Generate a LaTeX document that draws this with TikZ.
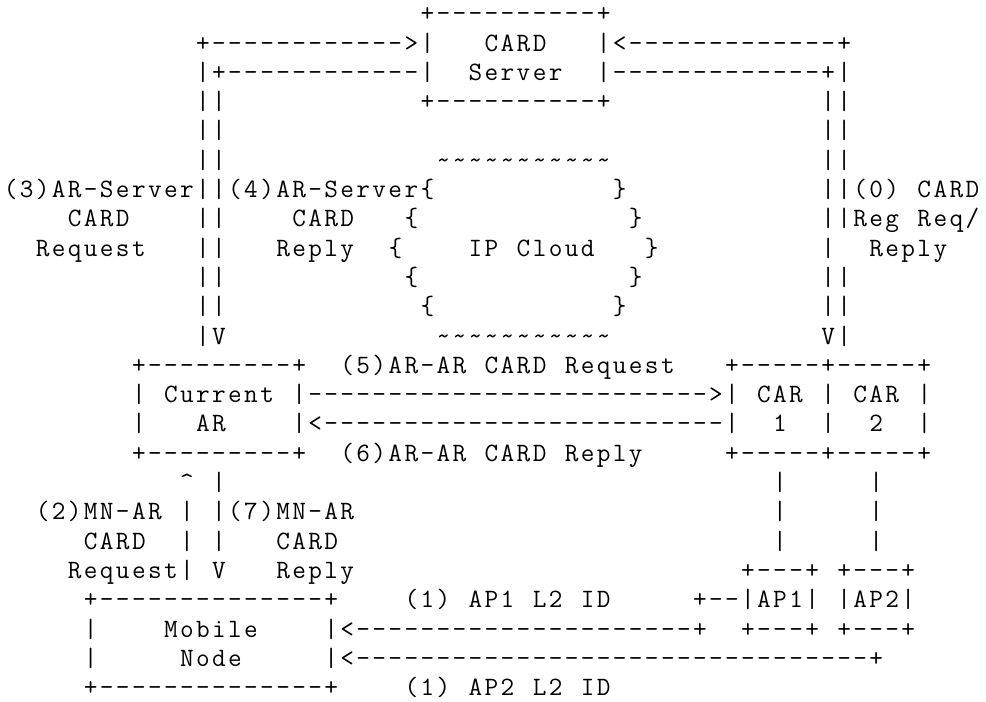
\documentclass[tikz,border=0pt]{standalone}
\ExplSyntaxOn
\newcommand\dashes[1]{\prg_replicate:nn{#1}{-}}
\newcommand\tildes[1]{\prg_replicate:nn{#1}{\T}}
\ExplSyntaxOff
\protected\def\T{\textasciitilde}
\protected\def\LB{\{}
\protected\def\RB{\}}
\protected\def\C{\textasciicircum}
\protected\def\s{}
\newlength\cw
\setlength\cw{16.03bp}
\def\fw#1{\ifx#1\relax\else\makebox[\cw][c]{#1}\expandafter\fw\fi}
\newcounter{ck}
\newcommand\at[3]{\edef\tmp{#3}\stepcounter{ck}%
  \node[txt] (t\arabic{ck}) at ({2.6+16.03*#2},{680.2-29.3*(#1-1)}) {\expandafter\fw\tmp\relax};}
\tikzset{txt/.style={inner sep=0pt, outer sep=0pt, anchor=base west,
  font=\ttfamily\fontsize{26.5bp}{29.3bp}\selectfont}}
\begin{document}
\begin{tikzpicture}[x=1bp,y=1bp]
\fill[white] (0,0) rectangle (986,702);
% row 1
\at{1}{26}{+\dashes{10}+}
% row 2
\at{2}{12}{+\dashes{12}>|}
\at{2}{30}{CARD}
\at{2}{37}{|<\dashes{13}+}
% row 3
\at{3}{12}{|+\dashes{12}|}
\at{3}{29}{Server}
\at{3}{37}{|\dashes{13}+|}
% row 4
\at{4}{12}{||}
\at{4}{26}{+\dashes{10}+}
\at{4}{51}{||}
% row 5
\at{5}{12}{||}
\at{5}{51}{||}
% row 6
\at{6}{12}{||}
\at{6}{27}{\tildes{11}}
\at{6}{51}{||}
% row 7
\at{7}{0}{(3)AR-Server||(4)AR-Server\LB}
\at{7}{38}{\RB}
\at{7}{51}{||(0)\s CARD}
% row 8
\at{8}{4}{CARD}
\at{8}{12}{||}
\at{8}{18}{CARD}
\at{8}{25}{\LB}
\at{8}{39}{\RB}
\at{8}{51}{||Reg\s Req/}
% row 9
\at{9}{2}{Request}
\at{9}{12}{||}
\at{9}{17}{Reply}
\at{9}{24}{\LB}
\at{9}{29}{IP\s Cloud}
\at{9}{40}{\RB}
\at{9}{51}{|}
\at{9}{54}{Reply}
% row 10
\at{10}{12}{||}
\at{10}{25}{\LB}
\at{10}{39}{\RB}
\at{10}{51}{||}
% row 11
\at{11}{12}{||}
\at{11}{26}{\LB}
\at{11}{38}{\RB}
\at{11}{51}{||}
% row 12
\at{12}{12}{|V}
\at{12}{27}{\tildes{11}}
\at{12}{51}{V|}
% row 13
\at{13}{8}{+\dashes{9}+}
\at{13}{21}{(5)AR-AR\s CARD\s Request}
\at{13}{45}{+\dashes{5}+\dashes{5}+}
% row 14
\at{14}{8}{|}
\at{14}{10}{Current}
\at{14}{18}{|\dashes{25}>|}
\at{14}{47}{CAR}
\at{14}{51}{|}
\at{14}{53}{CAR}
\at{14}{57}{|}
% row 15
\at{15}{8}{|}
\at{15}{12}{AR}
\at{15}{18}{|<\dashes{25}|}
\at{15}{48}{1}
\at{15}{51}{|}
\at{15}{54}{2}
\at{15}{57}{|}
% row 16
\at{16}{8}{+\dashes{9}+}
\at{16}{21}{(6)AR-AR\s CARD\s Reply}
\at{16}{45}{+\dashes{5}+\dashes{5}+}
% row 17
\at{17}{11}{\C}
\at{17}{13}{|}
\at{17}{48}{|}
\at{17}{54}{|}
% row 18
\at{18}{2}{(2)MN-AR}
\at{18}{11}{|}
\at{18}{13}{|(7)MN-AR}
\at{18}{48}{|}
\at{18}{54}{|}
% row 19
\at{19}{5}{CARD}
\at{19}{11}{|}
\at{19}{13}{|}
\at{19}{17}{CARD}
\at{19}{48}{|}
\at{19}{54}{|}
% row 20
\at{20}{4}{Request|}
\at{20}{13}{V}
\at{20}{17}{Reply}
\at{20}{46}{+\dashes{3}+}
\at{20}{52}{+\dashes{3}+}
% row 21
\at{21}{5}{+\dashes{14}+}
\at{21}{25}{(1)\s AP1\s L2\s ID}
\at{21}{43}{+\dashes{2}|AP1|}
\at{21}{52}{|AP2|}
% row 22
\at{22}{5}{|}
\at{22}{10}{Mobile}
\at{22}{20}{|<\dashes{21}+}
\at{22}{46}{+\dashes{3}+}
\at{22}{52}{+\dashes{3}+}
% row 23
\at{23}{5}{|}
\at{23}{11}{Node}
\at{23}{20}{|<\dashes{32}+}
% row 24
\at{24}{5}{+\dashes{14}+}
\at{24}{25}{(1)\s AP2\s L2\s ID}
\end{tikzpicture}
\end{document}
